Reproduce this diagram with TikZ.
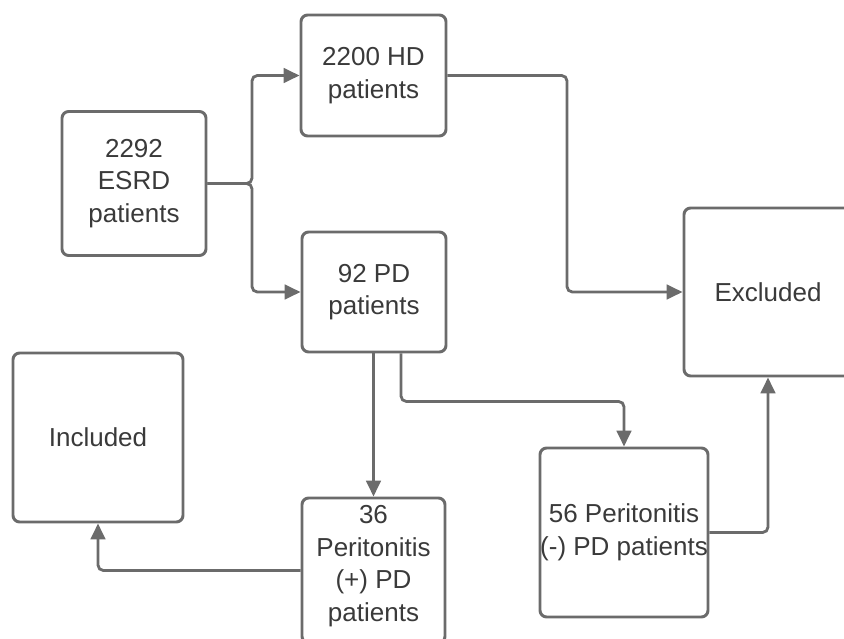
\documentclass[tikz,border=0pt]{standalone}
\usepackage{fontspec}
\setmainfont{Liberation Sans}
\usetikzlibrary{arrows.meta}
\definecolor{linegray}{HTML}{6B6B6B}
\definecolor{textgray}{HTML}{3A3A3A}

\begin{document}
\begin{tikzpicture}[x=0.75pt,y=-0.75pt,
   box/.style={draw=linegray, line width=2.2pt, rounded corners=5pt, fill=white,
      text=textgray, align=center, inner sep=0pt,
      font=\fontsize{19.5}{24.5}\selectfont},
   flow/.style={draw=linegray, line width=2.1pt, rounded corners=4pt,
      -{Triangle[length=12pt,width=11pt]}}]
      \useasboundingbox (0,0) rectangle (844,639);
      \clip (0,0) rectangle (844,639);

      \node[box, name=esrd, minimum width=108pt, minimum height=108pt] at (134,183.5) {2292\\ESRD\\patients};
      \node[box, name=hd, minimum width=108.75pt, minimum height=90.75pt] at (373.5,75.5) {2200 HD\\patients};
      \node[box, name=pd, minimum width=108pt, minimum height=90pt] at (374,292) {92 PD\\patients};
      \node[box, name=excl, minimum width=126pt, minimum height=126pt] at (768,292) {Excluded};
      \node[box, name=incl, minimum width=127.5pt, minimum height=126.75pt] at (98,437.5) {Included};
      \node[box, name=pos, minimum width=107.25pt, minimum height=108.75pt] at (373.5,570.5) {};
      \node[box, draw=none, fill=none, name=postext] at (373.5,566) {36\\Peritonitis\\(+) PD\\patients};
      \node[box, name=neg, minimum width=126pt, minimum height=126.75pt] at (624,532.5) {56 Peritonitis\\(-) PD patients};

      \coordinate (split) at (252,183.5);

      \draw[flow] (esrd.east) -- (split) |- (hd.west);
      \draw[flow] (esrd.east) -- (split) |- (pd.west);
      \draw[flow] (hd.east) -- (567,75.5) |- (excl.west);
      \draw[flow] (pos.north |- pd.south) -- (pos.north);
      \draw[flow] ([xshift=20.25pt]pd.south) -- ++(0,48) -| (neg.north);
      \draw[flow] (neg.east) -| (excl.south);
      \draw[flow] (pos.west) -| (incl.south);
   \end{tikzpicture}
\end{document}
